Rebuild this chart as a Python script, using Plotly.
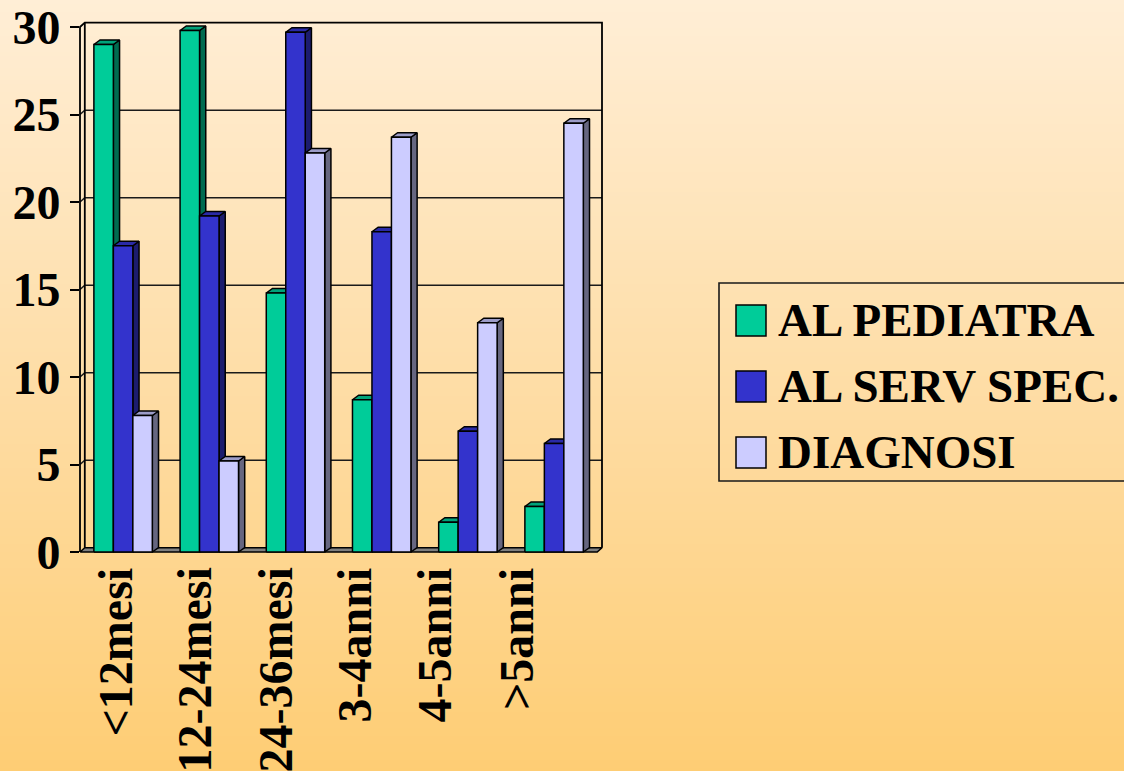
import plotly.graph_objects as go

# ---- data -------------------------------------------------------------
categories = ["<12mesi", "12-24mesi", "24-36mesi", "3-4anni", "4-5anni", ">5anni"]
series_names = ["AL PEDIATRA", "AL SERV SPEC.", "DIAGNOSI"]
al_pediatra = [29.0, 29.8, 14.8, 8.7, 1.7, 2.6]
al_serv_spec = [17.5, 19.2, 29.7, 18.3, 6.9, 6.2]
diagnosi = [7.8, 5.2, 22.8, 23.7, 13.1, 24.5]
y_ticks = [0, 5, 10, 15, 20, 25, 30]

series_values = [al_pediatra, al_serv_spec, diagnosi]

# ---- styling ----------------------------------------------------------
front_colors = ["#00CC99", "#3333CC", "#CCCCFF"]
side_colors = ["#006B50", "#1C1C6E", "#666680"]
top_colors = ["#00A37A", "#2A2AA6", "#9C9CC8"]
FONT = "Liberation Serif"
FONT_SIZE = 48
LEGEND_FONT_SIZE = 47
W, H = 1124, 771

# pixel geometry of the front plane of the 3-D box
FRONT_LEFT_PX, FRONT_ZERO_PX = 80, 552
PX_PER_CAT, PX_PER_UNIT = 86.2, 17.5
PLOT_L, PLOT_R, PLOT_T, PLOT_B = 72, 612, 16, 562

x_range = [-0.5 - (FRONT_LEFT_PX - PLOT_L) / PX_PER_CAT,
           -0.5 + (PLOT_R - FRONT_LEFT_PX) / PX_PER_CAT]
y_range = [-(PLOT_B - FRONT_ZERO_PX) / PX_PER_UNIT,
           (FRONT_ZERO_PX - PLOT_T) / PX_PER_UNIT]

# depth offsets (walls and bars), expressed in axis units
WDX, WDY = 4.8 / PX_PER_CAT, 4.3 / PX_PER_UNIT
BDX, BDY = 6.2 / PX_PER_CAT, 4.5 / PX_PER_UNIT
BAR_W = 0.226

n_cat = len(categories)
x_lo, x_hi = -0.5, n_cat - 0.5
y_top = y_ticks[-1]

fig = go.Figure()

def poly_trace(xs, ys, fill, width=1.5, color="#000000"):
    return go.Scatter(x=xs, y=ys, mode="lines", fill="toself" if fill else None,
                      fillcolor=fill, line=dict(color=color, width=width),
                      hoverinfo="skip", showlegend=False)

# floor
fig.add_trace(poly_trace(
    [x_lo, x_hi, x_hi + WDX, x_lo + WDX, x_lo],
    [0, 0, WDY, WDY, 0], "#808080"))

# back-wall gridlines (with the short run across the side wall)
gx, gy = [], []
for v in y_ticks[1:-1]:
    gx += [x_lo, x_lo + WDX, x_hi + WDX, None]
    gy += [v, v + WDY, v + WDY, None]
fig.add_trace(poly_trace(gx, gy, None, width=1.6, color="#1a1a1a"))

# wall outline
fig.add_trace(poly_trace(
    [x_lo, x_lo, x_lo + WDX, x_hi + WDX, x_hi + WDX, None, x_lo + WDX, x_lo + WDX],
    [0, y_top, y_top + WDY, y_top + WDY, WDY, None, WDY, y_top + WDY],
    None, width=1.8))

# 3-D bars: side face, top face, front face for each series
for s, vals in enumerate(series_values):
    sx, sy, tx, ty, fx, fy = [], [], [], [], [], []
    for i, v in enumerate(vals):
        x0 = i + (s - 1.5) * BAR_W
        x1 = x0 + BAR_W
        sx += [x1, x1 + BDX, x1 + BDX, x1, x1, None]
        sy += [0, BDY, v + BDY, v, 0, None]
        tx += [x0, x1, x1 + BDX, x0 + BDX, x0, None]
        ty += [v, v, v + BDY, v + BDY, v, None]
        fx += [x0, x1, x1, x0, x0, None]
        fy += [0, 0, v, v, 0, None]
    fig.add_trace(poly_trace(sx, sy, side_colors[s]))
    fig.add_trace(poly_trace(tx, ty, top_colors[s]))
    fig.add_trace(poly_trace(fx, fy, front_colors[s]))

# ---- background gradient --------------------------------------------
stops = [(0.0, (255, 238, 214)), (0.5, (254, 221, 166)), (1.0, (254, 205, 116))]

def grad(t):
    for (t0, c0), (t1, c1) in zip(stops[:-1], stops[1:]):
        if t <= t1:
            f = (t - t0) / (t1 - t0)
            return "rgb(%d,%d,%d)" % tuple(round(a + (b - a) * f) for a, b in zip(c0, c1))
    return "rgb(%d,%d,%d)" % stops[-1][1]

shapes = []
band = 4
for py in range(0, H, band):
    shapes.append(dict(type="rect", xref="paper", yref="paper", layer="below",
                       x0=0, x1=1, y0=1 - (py + band + 1) / H, y1=1 - py / H,
                       line=dict(width=0), fillcolor=grad((py + band / 2) / H)))

# ---- legend box -------------------------------------------------------
def px(x):
    return x / W

def py_(y):
    return 1 - y / H

shapes.append(dict(type="rect", xref="paper", yref="paper",
                   x0=px(719), x1=px(1140), y0=py_(481), y1=py_(283),
                   line=dict(color="#1a1a1a", width=1.6)))
annotations = []
row_tops = [305, 371, 437]
for s, name in enumerate(series_names):
    t = row_tops[s]
    shapes.append(dict(type="rect", xref="paper", yref="paper",
                       x0=px(736), x1=px(766), y0=py_(t + 31), y1=py_(t),
                       fillcolor=front_colors[s], line=dict(color="#000000", width=1.5)))
    annotations.append(dict(text=name, xref="paper", yref="paper",
                            x=px(776), y=py_(t + 15), xanchor="left", yanchor="middle",
                            showarrow=False,
                            font=dict(family=FONT, size=LEGEND_FONT_SIZE, color="#000000",
                                      weight="bold")))

# ---- category labels (rotated) ---------------------------------------
label_x = [115, 194, 275, 354, 434, 516]
for cx, name in zip(label_x, categories):
    annotations.append(dict(text=name, xref="paper", yref="paper",
                            x=px(cx), y=py_(566), xanchor="center", yanchor="top",
                            textangle=-90, showarrow=False,
                            font=dict(family=FONT, size=FONT_SIZE, color="#000000",
                                      weight="bold")))

fig.update_layout(
    width=W, height=H,
    margin=dict(l=0, r=0, t=0, b=0, autoexpand=False),
    paper_bgcolor="rgba(0,0,0,0)",
    plot_bgcolor="rgba(0,0,0,0)",
    showlegend=False,
    shapes=shapes,
    annotations=annotations,
    xaxis=dict(domain=[PLOT_L / W, PLOT_R / W], range=x_range,
               showgrid=False, zeroline=False, showline=False,
               showticklabels=False, ticks=""),
    yaxis=dict(domain=[1 - PLOT_B / H, 1 - PLOT_T / H], range=y_range,
               anchor="free", position=79 / W, automargin=False,
               tickvals=y_ticks, ticks="outside", ticklen=9, tickwidth=1.6,
               tickcolor="#000000", showgrid=False, zeroline=False, showline=False,
               tickfont=dict(family=FONT, size=FONT_SIZE, color="#000000",
                             weight="bold")),
)

fig.write_html("out.html")
